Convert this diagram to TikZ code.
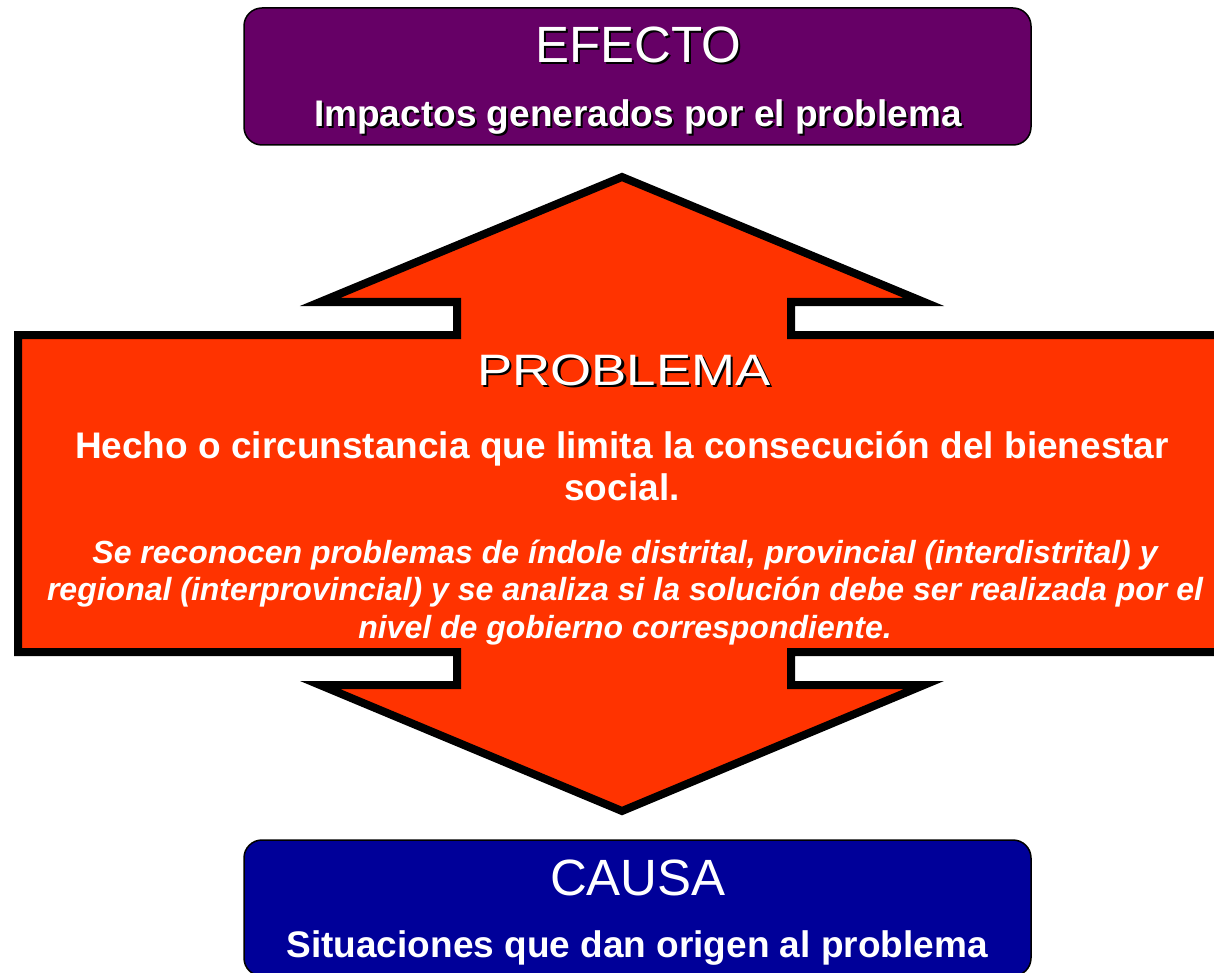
\documentclass[tikz,border=0pt]{standalone}
\usepackage{fontspec}
\setmainfont{Liberation Sans}
\definecolor{efecto}{HTML}{660066}
\definecolor{causa}{HTML}{000099}
\definecolor{problema}{HTML}{FF3300}
\newcommand{\shadowed}[1]{\makebox[0pt][l]{\kern2pt\raisebox{-2pt}{\color{black}#1}}#1}

\begin{document}
\begin{tikzpicture}[x=1pt,y=-1pt,
		box/.style={draw=black,line width=1.5pt,rounded corners=18pt},
		title/.style={text=white,anchor=base,inner sep=0pt,font=\fontsize{51}{51}\selectfont},
		subtitle/.style={text=white,anchor=base,inner sep=0pt,font=\bfseries\fontsize{37}{37}\selectfont},
		bodytext/.style={text=white,anchor=base,inner sep=0pt,align=center,font=\bfseries\fontsize{37}{42}\selectfont},
		notetext/.style={text=white,anchor=base,inner sep=0pt,align=center,font=\bfseries\itshape\fontsize{32}{37.5}\selectfont}]
		\clip (0,0) rectangle (1214,973);
		
		\draw[box,fill=efecto] (244,8) rectangle (1031,145);
		\node[title] (efecto) at (638,63) {\shadowed{EFECTO}};
		\node[subtitle] (impactos) at (638,127) {\shadowed{Impactos generados por el problema}};
		
		\draw[line width=8pt,fill=problema] (622,177) -- (924,302) -- (791,302) -- (791,335) -- (1240,335)
			-- (1240,652) -- (791,652) -- (791,685) -- (924,685) -- (622,811) -- (320,685) -- (457,685)
			-- (457,652) -- (18,652) -- (18,335) -- (457,335) -- (457,302) -- (320,302) -- cycle;
		\node[title,xscale=1.2,font=\fontsize{44}{44}\selectfont] (problema) at (624,385) {\shadowed{PROBLEMA}};
		\node[bodytext] (hecho) at (622,500) {Hecho o circunstancia que limita la consecución del bienestar\\social.};
		\node[notetext] (nota) at (625,638) {Se reconocen problemas de índole distrital, provincial (interdistrital) y\\regional (interprovincial) y se analiza si la solución debe ser realizada por el\\nivel de gobierno correspondiente.};
		
		\draw[box,fill=causa] (244,840) rectangle (1031,976);
		\node[title] (causa) at (638,895) {CAUSA};
		\node[subtitle] (situaciones) at (637,957) {Situaciones que dan origen al problema};
	\end{tikzpicture}
\end{document}
